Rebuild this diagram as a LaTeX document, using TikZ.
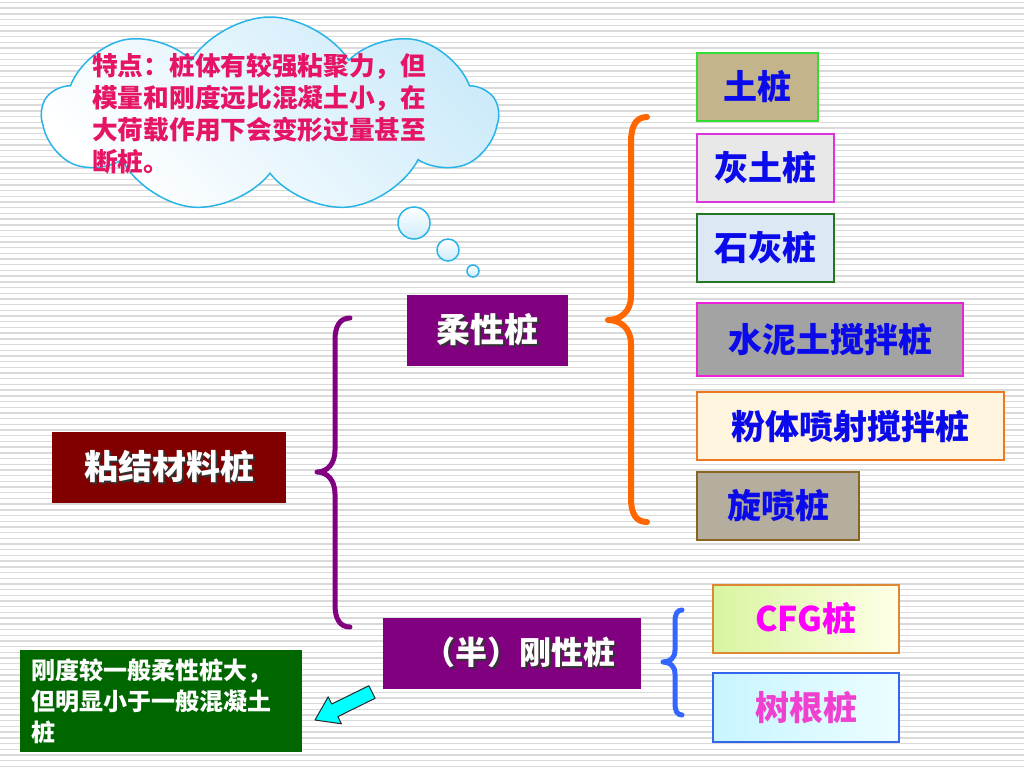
\documentclass[tikz,border=0pt]{standalone}
\usepackage{fontspec}
\setmainfont{Noto Sans CJK SC}
\usetikzlibrary{shapes.symbols}
\definecolor{stripe}{RGB}{218,218,218}
\definecolor{cloudline}{RGB}{40,180,230}
\definecolor{cloudfill}{RGB}{205,235,250}
\definecolor{notetext}{RGB}{230,20,100}
\definecolor{darkred}{RGB}{128,0,0}
\definecolor{purp}{RGB}{128,0,128}
\definecolor{textblue}{RGB}{10,10,235}
\definecolor{darkgreen}{RGB}{0,102,0}
\definecolor{orangebr}{RGB}{255,102,0}
\definecolor{bluebr}{RGB}{51,102,255}
\definecolor{arrowcyan}{RGB}{0,255,255}
\newcommand\shtxt[1]{\makebox[0pt][l]{\hspace{2pt}\raisebox{-2pt}{\color{black!80}#1}}#1}
\tikzset{
  bigtext/.style={font=\fontsize{34}{38}\selectfont\bfseries},
  catbox/.style={rectangle, inner sep=0pt, minimum height=71pt, text=white, bigtext},
  pilebox/.style={rectangle, inner sep=0pt, minimum height=68pt, text=textblue, font=\fontsize{34}{36}\selectfont\bfseries},
  bracestyle/.style={line width=5pt, line cap=round, line join=round},
  bubble/.style={draw=cloudline, line width=1.5pt, top color=white, bottom color=cloudfill}
}
\begin{document}
\begin{tikzpicture}[x=1pt,y=-1pt]
\useasboundingbox (0,0) rectangle (1024,768);
\fill[white] (0,0) rectangle (1024,768);
\foreach \i in {0,...,134} \draw[stripe, line width=1.4pt] (0,{2.5+\i*5.7}) -- (1024,{2.5+\i*5.7});

% cloud callout
\node[cloud, cloud puffs=9, cloud puff arc=115, aspect=2.4, minimum width=455pt, minimum height=196pt, inner sep=0pt, bubble, shading angle=135] (cloud) at (270,115) {};
\node[circle, bubble, minimum size=32pt, inner sep=0pt] (b1) at (414,223) {};
\node[circle, bubble, minimum size=22pt, inner sep=0pt] (b2) at (448,250) {};
\node[circle, bubble, minimum size=12pt, inner sep=0pt] (b3) at (473,271) {};
\node[anchor=north west, align=left, inner sep=0pt, text=notetext, font=\fontsize{25.7}{32}\selectfont\bfseries] (note) at (92,53) {特点：桩体有较强粘聚力，但\\模量和刚度远比混凝土小，在\\大荷载作用下会变形过量甚至\\断桩。};

% category boxes
\node[catbox, fill=darkred, minimum width=234pt] (root) at (169,467.5) {\shtxt{粘结材料桩}};
\node[catbox, fill=purp, minimum width=161pt] (flex) at (487.5,330.5) {\shtxt{柔性桩}};
\node[catbox, fill=purp, minimum width=258pt, font=\fontsize{32}{36}\selectfont\bfseries] (rigid) at (512,653.5) {\hspace{14pt}\shtxt{（半）刚性桩}};

% braces
\coordinate (pt) at (350,318);
\coordinate (pm) at (317,472);
\coordinate (pb) at (350,627);
\draw[bracestyle, purp] (pt) .. controls (340,318) and (335,326) .. (335,340) -- (335,450)
  .. controls (335,464) and (327,472) .. (pm) .. controls (327,472) and (335,480) .. (335,494)
  -- (335,605) .. controls (335,619) and (340,627) .. (pb);

\coordinate (ot) at (647,117);
\coordinate (om) at (608,320);
\coordinate (ob) at (647,522);
\draw[bracestyle, orangebr, line width=6pt] (ot) .. controls (636,117) and (631,126) .. (631,142) -- (631,296)
  .. controls (631,312) and (620,320) .. (om) .. controls (620,320) and (631,328) .. (631,344)
  -- (631,498) .. controls (631,514) and (636,522) .. (ob);

\coordinate (bt) at (682,610);
\coordinate (bm) at (663,662);
\coordinate (bb) at (682,715);
\draw[bracestyle, bluebr] (bt) .. controls (677,610) and (675,614) .. (675,622) -- (675,650)
  .. controls (675,658) and (670,662) .. (bm) .. controls (670,662) and (675,666) .. (675,674)
  -- (675,703) .. controls (675,711) and (677,715) .. (bb);

% flexible piles
\node[pilebox, draw={rgb,255:red,51;green,221;blue,51}, line width=2pt, fill={rgb,255:red,196;green,180;blue,140}, minimum width=121pt] (p1) at (757.5,87) {土桩};
\node[pilebox, draw={rgb,255:red,221;green,51;blue,221}, line width=1.5pt, fill={rgb,255:red,232;green,232;blue,232}, minimum width=137pt] (p2) at (765.5,168) {灰土桩};
\node[pilebox, draw={rgb,255:red,34;green,119;blue,34}, line width=1.5pt, fill={rgb,255:red,220;green,233;blue,245}, minimum width=137pt] (p3) at (765.5,248) {石灰桩};
\node[pilebox, draw={rgb,255:red,238;green,34;blue,221}, line width=1.5pt, fill={rgb,255:red,163;green,163;blue,163}, minimum width=266pt, minimum height=73pt] (p4) at (830,339.5) {水泥土搅拌桩};
\node[pilebox, draw={rgb,255:red,238;green,119;blue,34}, line width=2pt, fill={rgb,255:red,255;green,244;blue,221}, minimum width=307pt] (p5) at (850.5,426) {粉体喷射搅拌桩};
\node[pilebox, draw={rgb,255:red,136;green,102;blue,34}, line width=2pt, fill={rgb,255:red,181;green,174;blue,158}, minimum width=162pt] (p6) at (778,506) {旋喷桩};

% rigid piles
\node[pilebox, draw={rgb,255:red,221;green,136;blue,51}, line width=1.5pt, left color={rgb,255:red,216;green,245;blue,160}, right color={rgb,255:red,255;green,255;blue,232}, minimum width=186pt, text={rgb,255:red,255;green,0;blue,255}] (r1) at (806,619) {CFG桩};
\node[pilebox, draw={rgb,255:red,51;green,102;blue,238}, line width=2pt, left color={rgb,255:red,200;green,245;blue,255}, right color={rgb,255:red,236;green,253;blue,255}, minimum width=186pt, minimum height=69pt, text={rgb,255:red,240;green,64;blue,208}] (r2) at (806,707.5) {树根桩};

% note box
\node[rectangle, fill=darkgreen, minimum width=282pt, minimum height=102pt, inner sep=0pt] (gbox) at (161,701) {};
\node[anchor=north west, align=left, inner sep=0pt, text=white, font=\fontsize{24}{31}\selectfont\bfseries] (gtext) at (31,659) {刚度较一般柔性桩大，\\但明显小于一般混凝土\\桩};

% cyan block arrow
\fill[arrowcyan, draw={rgb,255:red,40;green,40;blue,40}, line width=1pt, line join=round]
  (375.1,698.3) -- (337.9,716.6) -- (341.4,723.8) -- (315,720) -- (328.2,696.8) -- (331.7,704.0) -- (368.9,685.7) -- cycle;
\end{tikzpicture}
\end{document}
